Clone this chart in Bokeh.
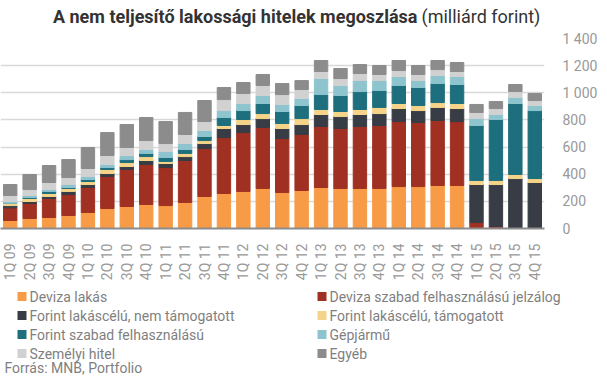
import math
from bokeh.plotting import figure
from bokeh.layouts import column
from bokeh.models import FactorRange, Range1d, FixedTicker, ColumnDataSource
from bokeh.core.properties import value
from bokeh.embed import file_html
from bokeh.resources import INLINE

QUARTERS = ["1Q 09", "2Q 09", "3Q 09", "4Q 09", "1Q 10", "2Q 10", "3Q 10", "4Q 10",
            "1Q 11", "2Q 11", "3Q 11", "4Q 11", "1Q 12", "2Q 12", "3Q 12", "4Q 12",
            "1Q 13", "2Q 13", "3Q 13", "4Q 13", "1Q 14", "2Q 14", "3Q 14", "4Q 14",
            "1Q 15", "2Q 15", "3Q 15", "4Q 15"]

DEVIZA_LAKAS = [59, 74, 81, 96, 118, 147, 162, 177, 169, 192, 236, 258, 273, 295,
                265, 280, 302, 295, 295, 295, 309, 309, 317, 317, 7, 2, 0, 0]
DEVIZA_SZABAD = [93, 110, 140, 154, 184, 236, 273, 295, 280, 309, 353, 412, 434, 449,
                 398, 413, 450, 442, 457, 464, 479, 472, 479, 471, 37, 13, 7, 0]
FORINT_NEM_TAM = [17, 15, 15, 23, 22, 22, 22, 29, 30, 29, 37, 67, 59, 66,
                  74, 73, 88, 88, 88, 88, 96, 88, 96, 96, 280, 309, 361, 339]
FORINT_TAM = [15, 22, 22, 22, 22, 30, 29, 29, 15, 23, 22, 22, 37, 37,
              37, 44, 37, 37, 37, 45, 37, 37, 36, 37, 30, 30, 30, 29]
FORINT_SZABAD = [2, 7, 15, 7, 15, 14, 22, 23, 29, 29, 30, 59, 66, 74,
                 88, 96, 110, 118, 132, 125, 133, 133, 140, 140, 405, 449, 523, 501]
GEPJARMU = [13, 15, 14, 22, 22, 23, 30, 29, 44, 44, 44, 51, 52, 59,
            52, 52, 118, 74, 81, 73, 66, 51, 59, 59, 51, 37, 44, 37]
SZEMELYI = [44, 44, 52, 52, 59, 66, 59, 66, 59, 67, 66, 81, 74, 74,
            73, 66, 52, 51, 52, 45, 44, 45, 44, 37, 45, 44, 44, 37]
EGYEB = [81, 111, 125, 132, 155, 169, 169, 170, 162, 162, 155, 89, 81, 81,
         81, 66, 81, 74, 66, 66, 74, 66, 67, 66, 59, 52, 52, 52]

SERIES_NAMES = ["Deviza lakás", "Deviza szabad felhasználású jelzálog",
                "Forint lakáscélú, nem támogatott", "Forint lakáscélú, támogatott",
                "Forint szabad felhasználású", "Gépjármű",
                "Személyi hitel", "Egyéb"]
COLORS = ["#F79B46", "#A03122", "#383C45", "#F5D48A",
          "#1E6F7D", "#8DC4CE", "#D1D1D1", "#8C8C8C"]

Y_TICKS = [0, 200, 400, 600, 800, 1000, 1200, 1400]
Y_TICK_LABELS = ["0", "200", "400", "600", "800", "1 000", "1 200", "1 400"]

TITLE_BOLD = "A nem teljesítő lakossági hitelek megoszlása"
TITLE_NORMAL = "(milliárd forint)"
SOURCE_TEXT = "Forrás: MNB, Portfolio"

FONT = "Roboto"
W = 585


def blank_figure(height):
    f = figure(width=W, height=height, x_range=Range1d(0, W), y_range=Range1d(height, 0),
               output_backend="svg", toolbar_location=None,
               x_axis_location=None, y_axis_location=None, frame_align=False,
               min_border_left=0, min_border_right=0, min_border_top=0, min_border_bottom=0)
    f.grid.visible = False
    f.outline_line_color = None
    return f


# ---- title ----
pt = blank_figure(28)
pt.text(x=[417], y=[15.5], text=[TITLE_BOLD], text_align="right", text_baseline="middle",
        text_font=value(FONT), text_font_style="bold", text_font_size="18px",
        text_color="#333333")
pt.text(x=[421], y=[15.5], text=[TITLE_NORMAL], text_align="left", text_baseline="middle",
        text_font=value(FONT), text_font_size="18px", text_color="#333333")

# ---- main chart ----
keys = ["s%d" % i for i in range(8)]
data = {"q": QUARTERS}
for k, vals in zip(keys, [DEVIZA_LAKAS, DEVIZA_SZABAD, FORINT_NEM_TAM, FORINT_TAM,
                          FORINT_SZABAD, GEPJARMU, SZEMELYI, EGYEB]):
    data[k] = vals
source = ColumnDataSource(data=data)

p = figure(x_range=FactorRange(factors=QUARTERS), y_range=Range1d(0, 1400),
           frame_width=544, frame_height=190, output_backend="svg", toolbar_location=None,
           y_axis_location="right", min_border_left=0, min_border_right=41,
           min_border_top=10, min_border_bottom=46, frame_align=False)

renderers = p.vbar_stack(keys, x="q", width=0.69, color=COLORS, source=source)

p.outline_line_color = None
p.xgrid.grid_line_color = None
p.ygrid.grid_line_color = "#D9D9D9"
p.ygrid.grid_line_width = 1.5
p.ygrid.ticker = FixedTicker(ticks=Y_TICKS)

p.yaxis.ticker = FixedTicker(ticks=Y_TICKS)
p.yaxis.major_label_overrides = dict(zip(Y_TICKS, Y_TICK_LABELS))
p.yaxis.axis_line_color = None
p.yaxis.major_tick_line_color = None
p.yaxis.minor_tick_line_color = None
p.yaxis.major_label_standoff = 12
p.yaxis.major_label_text_font = FONT
p.yaxis.major_label_text_font_size = "14px"
p.yaxis.major_label_text_color = "#999999"

p.xaxis.axis_line_color = "#8C8C8C"
p.xaxis.axis_line_width = 2
p.xaxis.major_tick_line_color = None
p.xaxis.minor_tick_line_color = None
p.xaxis.major_label_orientation = math.pi / 2
p.xaxis.major_label_standoff = 9
p.xaxis.major_label_text_font = FONT
p.xaxis.major_label_text_font_size = "14px"
p.xaxis.major_label_text_color = "#999999"

# ---- legend + source (two columns, four rows) ----
pl = blank_figure(92)
col_x = [17, 317]
row_y = [13, 32, 51, 70]
sq_x = [col_x[i % 2] + 4.5 for i in range(len(SERIES_NAMES))]
sq_y = [row_y[i // 2] for i in range(len(SERIES_NAMES))]
lab_x = [col_x[i % 2] + 12 for i in range(len(SERIES_NAMES))]
pl.rect(x=sq_x, y=sq_y, width=9, height=9, fill_color=COLORS, line_color=None)
pl.text(x=lab_x, y=sq_y, text=SERIES_NAMES, text_align="left", text_baseline="middle",
        text_font=value(FONT), text_font_size="14px", text_color="#7F7F7F")
pl.text(x=[4], y=[84], text=[SOURCE_TEXT], text_align="left", text_baseline="middle",
        text_font=value(FONT), text_font_size="14px", text_color="#7F7F7F")

layout = column(pt, p, pl, spacing=0)
open("out.html", "w").write(file_html(layout, INLINE))
